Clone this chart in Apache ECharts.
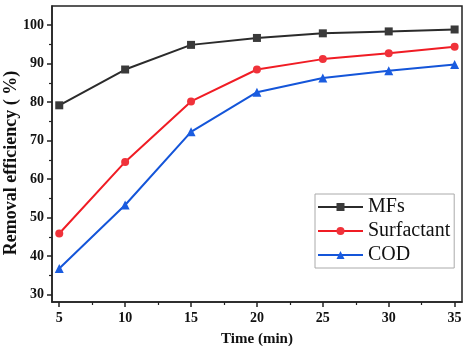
<!DOCTYPE html>
<html>
<head>
<meta charset="utf-8">
<script src="https://cdn.jsdelivr.net/npm/echarts@6/dist/echarts.min.js"></script>
<style>
  html, body { margin: 0; padding: 0; background: #fff; }
  #chart { width: 472px; height: 346px; }
</style>
</head>
<body>
<div id="chart"></div>
<script>
// Removal efficiency over time
const times = [5, 10, 15, 20, 25, 30, 35];
const mfs = [79.2, 88.5, 94.9, 96.7, 97.9, 98.4, 98.9];
const surfactant = [45.9, 64.5, 80.2, 88.5, 91.2, 92.7, 94.4];
const cod = [36.8, 53.3, 72.3, 82.6, 86.3, 88.2, 89.8];

const xTicks = [5, 10, 15, 20, 25, 30, 35];
const xMinorTicks = [7.5, 12.5, 17.5, 22.5, 27.5, 32.5];
const yTicks = [30, 40, 50, 60, 70, 80, 90, 100];
const yMinorTicks = [35, 45, 55, 65, 75, 85, 95];

const FONT = "'Times New Roman', 'Liberation Serif', serif";
const AX = '#222';

const pairs = arr => times.map((t, i) => [t, arr[i]]);

const xBase = {
  type: 'value', min: 4.45, max: 35.56,
  splitLine: { show: false },
  axisLine: { show: true, onZero: false, lineStyle: { color: AX, width: 1.5 } }
};
const yBase = {
  type: 'value', min: 28.1, max: 105,
  splitLine: { show: false },
  axisLine: { show: true, onZero: false, lineStyle: { color: AX, width: 1.5 } }
};

const chart = echarts.init(document.getElementById('chart'));
chart.setOption({
  animation: false,
  backgroundColor: '#fff',
  grid: {
    left: 52, top: 6, right: 10, bottom: 44,
    outerBoundsMode: 'none',
    containLabel: false,
    show: true, borderColor: AX, borderWidth: 1.5
  },
  xAxis: [
    Object.assign({}, xBase, {
      name: 'Time (min)', nameLocation: 'middle', nameGap: 30, nameMoveOverlap: false,
      nameTextStyle: { fontFamily: FONT, fontWeight: 'bold', fontSize: 15, color: '#111' },
      axisTick: { show: true, length: 5, customValues: xTicks, lineStyle: { color: AX, width: 1.5 } },
      axisLabel: { customValues: xTicks, fontFamily: FONT, fontWeight: 'bold', fontSize: 14, color: '#111', margin: 9 }
    }),
    Object.assign({}, xBase, {
      position: 'bottom',
      axisLine: { show: false },
      axisTick: { show: true, length: 3, customValues: xMinorTicks, lineStyle: { color: AX, width: 1.2 } },
      axisLabel: { show: false }
    })
  ],
  yAxis: [
    Object.assign({}, yBase, {
      name: 'Removal efficiency ( %)', nameLocation: 'middle', nameGap: 32, nameMoveOverlap: false,
      nameTextStyle: { fontFamily: FONT, fontWeight: 'bold', fontSize: 18, color: '#111', padding: [0, 18, 0, 0] },
      axisTick: { show: true, length: 5, customValues: yTicks, lineStyle: { color: AX, width: 1.5 } },
      axisLabel: { customValues: yTicks, fontFamily: FONT, fontWeight: 'bold', fontSize: 14, color: '#111', margin: 8 }
    }),
    Object.assign({}, yBase, {
      position: 'left',
      axisLine: { show: false },
      axisTick: { show: true, length: 3, customValues: yMinorTicks, lineStyle: { color: AX, width: 1.2 } },
      axisLabel: { show: false }
    })
  ],
  legend: {
    orient: 'vertical',
    left: 315, top: 194,
    padding: [3, 4, 3, 2],
    itemGap: 4,
    itemWidth: 45, itemHeight: 10,
    borderColor: '#aaa', borderWidth: 1,
    textStyle: { fontFamily: FONT, fontSize: 20, color: '#111', lineHeight: 20 },
    data: ['MFs', 'Surfactant', 'COD']
  },
  series: [
    {
      name: 'MFs', type: 'line', data: pairs(mfs),
      symbol: 'rect', symbolSize: 8,
      lineStyle: { color: '#2b2b2b', width: 2 },
      itemStyle: { color: '#3a3a3a' }
    },
    {
      name: 'Surfactant', type: 'line', data: pairs(surfactant),
      symbol: 'circle', symbolSize: 8,
      lineStyle: { color: '#f01c24', width: 2 },
      itemStyle: { color: '#f0323a' }
    },
    {
      name: 'COD', type: 'line', data: pairs(cod),
      symbol: 'triangle', symbolSize: 9,
      lineStyle: { color: '#1455d9', width: 2 },
      itemStyle: { color: '#1a5ce0' }
    }
  ]
});
</script>
</body>
</html>
